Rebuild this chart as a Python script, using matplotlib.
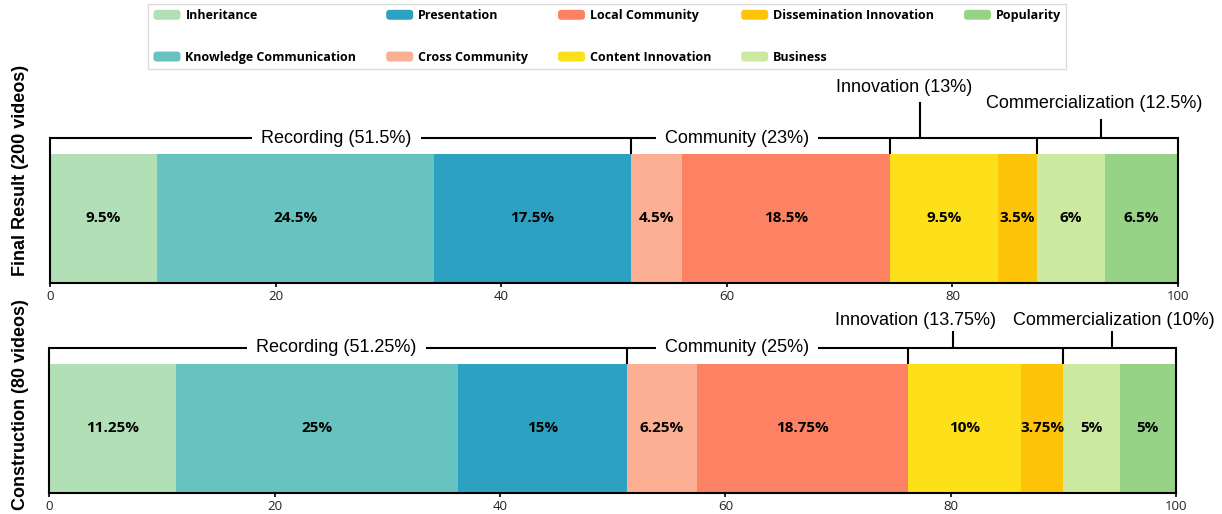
import matplotlib.pyplot as plt
from matplotlib.patches import Patch, FancyBboxPatch
from matplotlib.legend_handler import HandlerPatch

# sub-categories, in stacking order
categories = ['Inheritance', 'Knowledge Communication', 'Presentation',
              'Cross Community', 'Local Community', 'Content Innovation',
              'Dissemination Innovation', 'Business', 'Popularity']
colors = ['#b2e0b6', '#66c3bf', '#2da1c2', '#fcaf93', '#fd8263',
          '#fee01a', '#fec40a', '#cce9a0', '#97d387']

# shares (%) per dataset
final_vals = [9.5, 24.5, 17.5, 4.5, 18.5, 9.5, 3.5, 6, 6.5]
final_labels = ['9.5%', '24.5%', '17.5%', '4.5%', '18.5%', '9.5%', '3.5%', '6%', '6.5%']
constr_vals = [11.25, 25, 15, 6.25, 18.75, 10, 3.75, 5, 5]
constr_labels = ['11.25%', '25%', '15%', '6.25%', '18.75%', '10%', '3.75%', '5%', '5%']

# top-level groups: number of sub-categories in each group
group_sizes = [3, 2, 2, 2]
final_groups = ['Recording (51.5%)', 'Community (23%)', 'Innovation (13%)',
                'Commercialization (12.5%)']
constr_groups = ['Recording (51.25%)', 'Community (25%)', 'Innovation (13.75%)',
                 'Commercialization (10%)']

BAR_H = 0.89
LINE_KW = dict(color='black', lw=1.5, solid_capstyle='butt', clip_on=False)


class RoundHandler(HandlerPatch):
    def create_artists(self, legend, orig_handle, xdescent, ydescent,
                       width, height, fontsize, trans):
        p = FancyBboxPatch((-xdescent, -ydescent), width, height,
                           boxstyle='round,pad=0,rounding_size=2.5',
                           facecolor=orig_handle.get_facecolor(),
                           edgecolor='none', transform=trans)
        return [p]


def draw_panel(ax, vals, labels, groups, ylabel_y, ylabel, label_pos):
    left = 0
    for v, lab, c in zip(vals, labels, colors):
        ax.barh(0, v, left=left, height=BAR_H, align='edge', color=c,
                edgecolor='none', zorder=2)
        ax.text(left + v / 2, BAR_H / 2, lab, ha='center', va='center',
                fontsize=11, fontweight='bold', family='Open Sans', zorder=4)
        left += v

    # bracket line along the top with dividers at group borders
    ax.plot([0, 100], [1, 1], zorder=1, **LINE_KW)
    bounds = []
    idx = 0
    for n in group_sizes:
        idx += n
        bounds.append(sum(vals[:idx]))
    for b in bounds[:-1]:
        ax.plot([b, b], [BAR_H, 1], zorder=1, **LINE_KW)

    txt_kw = dict(fontsize=13, family='Liberation Sans', ha='center', va='center')
    box = dict(boxstyle='square,pad=0.5', facecolor='white', edgecolor='none')
    # first two groups sit on the line, last two above it on a short stem
    for g, (tx, ty, sx, sy) in zip(groups, label_pos):
        if sx is None:
            ax.text(tx, ty, g, bbox=box, zorder=1.5, clip_on=False, **txt_kw)
        else:
            ax.plot([sx, sx], [1, sy], zorder=1, **LINE_KW)
            ax.text(tx, ty, g, zorder=3, clip_on=False, **txt_kw)

    ax.set_xlim(0, 100)
    ax.set_ylim(0, 1)
    ax.set_yticks([])
    ax.set_xticks([0, 20, 40, 60, 80, 100])
    ax.tick_params(axis='x', length=3, width=1.2, pad=2, labelsize=9.5,
                   labelcolor='#222222')
    for lbl in ax.get_xticklabels():
        lbl.set_family('Open Sans')
    ax.spines['top'].set_visible(False)
    for s in ['left', 'right', 'bottom']:
        ax.spines[s].set_linewidth(1.5)
        ax.spines[s].set_zorder(5)
    ax.figure.text(0.0164, ylabel_y, ylabel, rotation=90, ha='center',
                   va='center', fontsize=13, fontweight='bold',
                   family='Liberation Sans')


fig = plt.figure(figsize=(12.22, 5.14), dpi=100)
ax1 = fig.add_axes([0.0409, 0.4494, 0.9231, 0.2821])
ax2 = fig.add_axes([0.0403, 0.0403, 0.9221, 0.2833])

draw_panel(ax1, final_vals, final_labels, final_groups, 0.669,
           'Final Result (200 videos)',
           [(25.4, 1, None, None), (60.9, 1, None, None),
            (75.75, 1.345, 77.1, 1.25), (92.6, 1.24, 93.2, 1.13)])
draw_panel(ax2, constr_vals, constr_labels, constr_groups, 0.212,
           'Construction (80 videos)',
           [(25.5, 1, None, None), (61.0, 1, None, None),
            (76.9, 1.19, 80.2, 1.117), (94.5, 1.19, 94.3, 1.117)])

handles = [Patch(facecolor=c, label=n) for c, n in zip(colors, categories)]
leg = fig.legend(handles=handles, ncol=5, loc='upper center',
                 bbox_to_anchor=(0.497, 0.992), frameon=True, fancybox=False,
                 edgecolor='#d4d4d4',
                 prop=dict(family='Open Sans', weight='bold', size=9),
                 handlelength=2.16, handleheight=0.85, handletextpad=0.4,
                 columnspacing=2.38, labelspacing=2.3, borderpad=0.4,
                 borderaxespad=0, handler_map={Patch: RoundHandler()})
leg.get_frame().set_linewidth(1.0)

fig.savefig('out.png', dpi=100, facecolor='white')
